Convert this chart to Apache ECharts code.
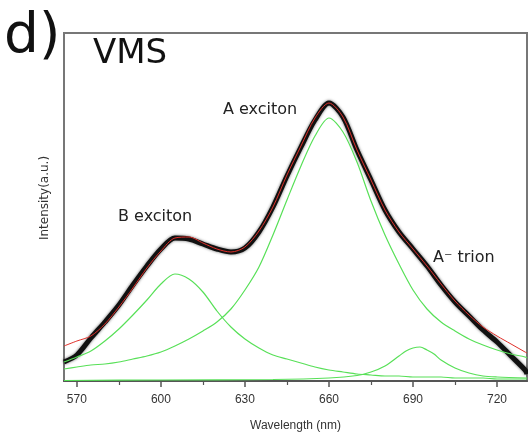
<!DOCTYPE html>
<html>
<head>
<meta charset="utf-8">
<script src="https://cdn.jsdelivr.net/npm/echarts@6/dist/echarts.min.js"></script>
<style>html,body{margin:0;padding:0;background:#fff}#c{width:528px;height:437px}</style>
</head>
<body>
<div id="c"></div>
<script>
// wavelength grid (nm)
const wavelength = [565.4, 570, 575, 580, 585, 590, 595, 600, 605, 610, 615, 620, 625, 630, 635, 640, 645, 650, 655, 660, 665, 670, 675, 680, 685, 690, 695, 700, 705, 710, 715, 720, 725, 730, 730.7];
// measured PL (a.u.)
const measured = [19, 26, 43, 59, 76, 96, 115, 132, 143, 142, 137, 132, 129, 133, 149, 174, 205, 234, 261, 278, 264, 231, 201, 171, 149, 132, 115, 96, 79, 65, 51, 39, 25, 11, 7];
// cumulative fit
const fitTotal = [35, 40, 45, 57, 74, 93, 113, 130, 143, 144, 138, 132, 129, 134, 150, 174, 206, 235, 263, 278, 264, 231, 201, 171, 149, 132, 115, 97, 80, 66, 54, 45, 37, 29, 28];
// A exciton component
const peakA = [12, 14, 16, 17, 19, 22, 25, 29, 35, 42, 50, 59, 72, 91, 114, 146, 181, 215, 245, 263, 249, 219, 180, 146, 117, 91, 72, 59, 50, 42, 36, 31, 27, 24, 23];
// B exciton component
const peakB = [19, 24, 30, 40, 52, 66, 81, 97, 107, 102, 89, 70, 54, 42, 33, 26, 22, 18, 14, 11, 9, 7, 6, 5, 5, 4, 4, 4, 3, 3, 3, 2, 2, 2, 2];
// trion component
const trionWavelength = [565.4, 600, 640, 660, 670, 675, 680, 685, 687.5, 690, 692.5, 695, 697.5, 700, 705, 710, 715, 720, 730.7];
const trionPeak = [0.5, 1, 1.5, 3, 5.5, 9, 15, 25, 30, 33, 34, 31, 27, 21, 13, 8, 5, 4, 3];
// ticks
const xTickLabels = [570, 600, 630, 660, 690, 720];
const xMinorTicks = [585, 615, 645, 675, 705];

const pair = (xs, ys) => xs.map((x, i) => [x, ys[i]]);
const green = '#58e058';
const chart = echarts.init(document.getElementById('c'), null, {renderer: 'canvas'});
chart.setOption({
  animation: false,
  backgroundColor: '#fff',
  grid: {left: 64, right: 1, top: 33, bottom: 56, show: true, borderColor: '#777', borderWidth: 2},
  xAxis: [{
    type: 'value', min: 565.4, max: 730.7,
    axisLine: {show: true, lineStyle: {color: '#555', width: 2}},
    axisTick: {show: true, customValues: xTickLabels, length: 6, inside: false, lineStyle: {color: '#555', width: 1.5}},
    axisLabel: {customValues: xTickLabels, margin: 13, fontSize: 12, fontFamily: 'Liberation Sans', color: '#333'},
    splitLine: {show: false},
    name: 'Wavelength (nm)', nameLocation: 'middle', nameGap: 39,
    nameTextStyle: {fontSize: 12, fontFamily: 'Liberation Sans', color: '#333'}
  }, {
    type: 'value', min: 565.4, max: 730.7, position: 'bottom', offset: 0,
    axisLine: {show: false},
    axisTick: {show: true, customValues: xMinorTicks, length: 4, lineStyle: {color: '#555', width: 1.2}},
    axisLabel: {show: false},
    splitLine: {show: false}
  }],
  yAxis: {
    type: 'value', min: 0, max: 348,
    axisLine: {show: true, lineStyle: {color: '#777', width: 2}},
    axisTick: {show: false}, axisLabel: {show: false}, splitLine: {show: false}
  },
  series: [
    {type: 'line', data: pair(wavelength, measured), smooth: 0.3, showSymbol: false,
     lineStyle: {color: '#111', width: 5, shadowColor: 'rgba(0,0,0,0.6)', shadowBlur: 3}, z: 2},
    {type: 'line', data: pair(wavelength, peakB), smooth: 0.3, showSymbol: false, lineStyle: {color: green, width: 1.2}, z: 3},
    {type: 'line', data: pair(wavelength, peakA), smooth: 0.3, showSymbol: false, lineStyle: {color: green, width: 1.2}, z: 3},
    {type: 'line', data: pair(trionWavelength, trionPeak), smooth: 0.3, showSymbol: false, lineStyle: {color: green, width: 1.2}, z: 3},
    {type: 'line', data: pair(wavelength, fitTotal), smooth: 0.3, showSymbol: false, lineStyle: {color: '#e0302a', width: 1}, z: 4}
  ],
  graphic: [
    {type: 'text', style: {x: 4, y: 38, text: 'd)', font: '55px "DejaVu Sans"', fill: '#111', verticalAlign: 'middle'}},
    {type: 'text', style: {x: 93, y: 54, text: 'VMS', font: '34px "DejaVu Sans"', fill: '#111', verticalAlign: 'middle'}},
    {type: 'text', style: {x: 223, y: 110, text: 'A exciton', font: '16px "DejaVu Sans"', fill: '#222', verticalAlign: 'middle'}},
    {type: 'text', style: {x: 118, y: 217, text: 'B exciton', font: '16px "DejaVu Sans"', fill: '#222', verticalAlign: 'middle'}},
    {type: 'text', style: {x: 433, y: 258, text: 'A\u207B trion', font: '16px "DejaVu Sans"', fill: '#222', verticalAlign: 'middle'}},
    {type: 'text', x: 45, y: 198, rotation: Math.PI / 2,
     style: {x: 0, y: 0, text: 'Intensity(a.u.)', font: '12px "DejaVu Sans"', fill: '#333', align: 'center', verticalAlign: 'middle'}}
  ]
});
</script>
</body>
</html>
